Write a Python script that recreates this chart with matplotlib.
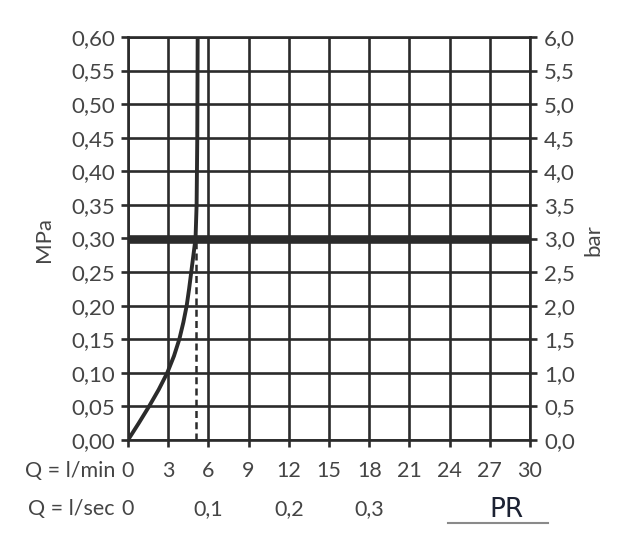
import matplotlib.pyplot as plt
import matplotlib.lines as mlines

plt.rcParams['font.family'] = ['Lato', 'DejaVu Sans']

# flow (l/min) vs pressure (MPa)
flow_q = [0, 0.8, 1.57, 2.29, 2.93, 3.43, 3.83, 4.13, 4.38, 4.56, 4.72, 4.88, 5.04, 5.12, 5.17, 5.2]
press_p = [0, 0.025, 0.05, 0.075, 0.10, 0.125, 0.15, 0.175, 0.20, 0.225, 0.25, 0.275, 0.30, 0.35, 0.45, 0.60]
working_p = 0.30
working_q = 5.06

xticks_min = list(range(0, 31, 3))
xlabels_min = ['0', '3', '6', '9', '12', '15', '18', '21', '24', '27', '30']
xticks_sec = [0, 6, 12, 18]
xlabels_sec = ['0', '0,1', '0,2', '0,3']
yticks_mpa = [i * 0.05 for i in range(13)]
ylabels_mpa = ['0,00', '0,05', '0,10', '0,15', '0,20', '0,25', '0,30', '0,35',
               '0,40', '0,45', '0,50', '0,55', '0,60']
yticks_bar = [i * 0.5 for i in range(13)]
ylabels_bar = ['0,0', '0,5', '1,0', '1,5', '2,0', '2,5', '3,0', '3,5',
               '4,0', '4,5', '5,0', '5,5', '6,0']

line_c = '#2b2b2b'
text_c = '#454545'
fs = 16
fs_x = 15.5

fig = plt.figure(figsize=(6.26, 5.45), dpi=100)
ax = fig.add_axes([128 / 626, 1 - 440 / 545, 402 / 626, 403 / 545])
ax.set_xlim(0, 30)
ax.set_ylim(0, 0.6)

ax.set_xticks(xticks_min)
ax.set_xticklabels([])
ax.set_yticks(yticks_mpa)
ax.set_yticklabels(ylabels_mpa, fontsize=fs, color=text_c)
ax.tick_params(axis='both', direction='out', length=5, width=1.9, color=line_c, pad=4)
ax.grid(True, color=line_c, linewidth=1.9)
for s in ax.spines.values():
    s.set_color(line_c)
    s.set_linewidth(1.9)

ax.axhline(working_p, color=line_c, linewidth=6.2, zorder=3)
ax.plot([working_q, working_q], [0, working_p], color=line_c, linewidth=1.8,
        linestyle=(0, (2.8, 1.7)), zorder=3)
ax.plot(flow_q, press_p, color=line_c, linewidth=2.8, zorder=4,
        solid_capstyle='butt', solid_joinstyle='round')

ax2 = ax.twinx()
ax2.set_ylim(0, 6)
ax2.set_yticks(yticks_bar)
ax2.set_yticklabels(ylabels_bar, fontsize=fs, color=text_c)
ax2.tick_params(axis='y', direction='out', length=5, width=1.9, color=line_c, pad=5)
for s in ax2.spines.values():
    s.set_visible(False)

# axis titles
fig.text(44 / 626, 1 - 240 / 545, 'MPa', rotation=90, fontsize=fs, color=text_c,
         ha='center', va='center')
fig.text(593 / 626, 1 - 240 / 545, 'bar', rotation=90, fontsize=fs, color=text_c,
         ha='center', va='center')

for x, lab in zip(xticks_min, xlabels_min):
    ax.annotate(lab, xy=(x, 0), xycoords=('data', 'axes fraction'),
                xytext=(0, -31 * 0.72), textcoords='offset points',
                ha='center', va='center', fontsize=fs_x, color=text_c)
for x, lab in zip(xticks_sec, xlabels_sec):
    ax.annotate(lab, xy=(x, 0), xycoords=('data', 'axes fraction'),
                xytext=(0, -69 * 0.72), textcoords='offset points',
                ha='center', va='center', fontsize=fs_x, color=text_c)
ax.annotate('Q = l/min', xy=(0, 0), xycoords=('data', 'axes fraction'),
            xytext=(-13 * 0.72, -31 * 0.72), textcoords='offset points',
            ha='right', va='center', fontsize=fs_x, color=text_c)
ax.annotate('Q = l/sec', xy=(0, 0), xycoords=('data', 'axes fraction'),
            xytext=(-13 * 0.72, -69 * 0.72), textcoords='offset points',
            ha='right', va='center', fontsize=fs_x, color=text_c)

# logo
fig.text(507 / 626, 1 - 510 / 545, 'PR', fontsize=19, color='#1c2233',
         ha='center', va='center', family='DejaVu Sans')
fig.add_artist(mlines.Line2D([448 / 626, 548 / 626], [1 - 523 / 545, 1 - 523 / 545],
                             color='#8a8a8a', linewidth=1.5))

fig.savefig('out.png', dpi=100)
